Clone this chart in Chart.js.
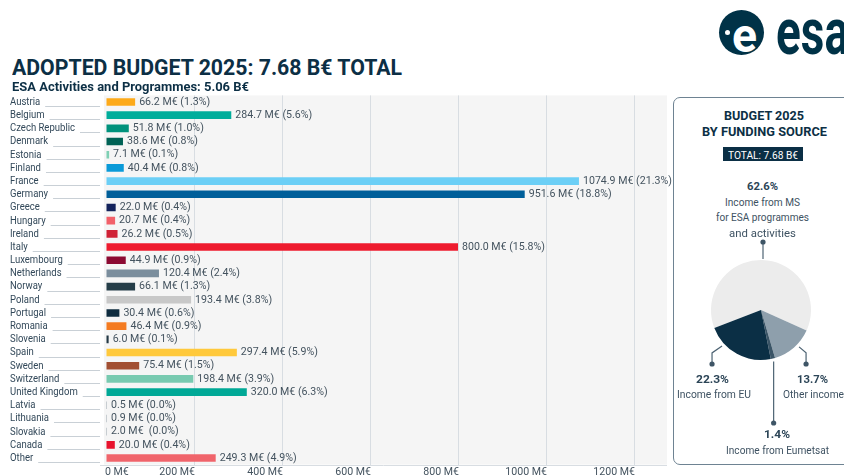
<!DOCTYPE html>
<html>
<head>
<meta charset="utf-8">
<script src="https://cdn.jsdelivr.net/npm/chart.js@4.4.1/dist/chart.umd.min.js"></script>
<style>
  html, body { margin: 0; padding: 0; background: #fff; width: 844px; height: 476px; overflow: hidden; }
  body { position: relative; font-family: Roboto, sans-serif; }
  #bars { position: absolute; left: 0; top: 88px; }
  #panel { position: absolute; left: 673px; top: 97px; width: 200px; height: 368px; box-sizing: border-box;
           border: 1.5px solid #6e8392; border-radius: 7px; background: #fff; }
  #pie { position: absolute; left: 673px; top: 236px; }
  #totalBox { position: absolute; left: 723px; top: 147px; width: 80px; height: 14px; background: #0b2f45; }
  #logoDisc { position: absolute; left: 719px; top: 10px; width: 45px; height: 45px; border-radius: 50%; background: #003247; }
  #logoDot { position: absolute; left: 725px; top: 30px; width: 5px; height: 5px; border-radius: 50%; background: #fff; }
</style>
</head>
<body>
<div id="logoDisc"></div>
<div id="logoDot"></div>
<div id="panel"></div>
<div id="totalBox"></div>
<canvas id="bars" width="672" height="388"></canvas>
<canvas id="pie" width="171" height="230"></canvas>

<script>
// ESA contributions by member state (M€) and share of ESA activities
const countries = ["Austria", "Belgium", "Czech Republic", "Denmark", "Estonia", "Finland", "France",
  "Germany", "Greece", "Hungary", "Ireland", "Italy", "Luxembourg", "Netherlands", "Norway", "Poland",
  "Portugal", "Romania", "Slovenia", "Spain", "Sweden", "Switzerland", "United Kingdom", "Latvia",
  "Lithuania", "Slovakia", "Canada", "Other"];
const budgetMEUR = [66.2, 284.7, 51.8, 38.6, 7.1, 40.4, 1074.9, 951.6, 22.0, 20.7, 26.2, 800.0, 44.9,
  120.4, 66.1, 193.4, 30.4, 46.4, 6.0, 297.4, 75.4, 198.4, 320.0, 0.5, 0.9, 2.0, 20.0, 249.3];
const sharePct = ["1.3", "5.6", "1.0", "0.8", "0.1", "0.8", "21.3", "18.8", "0.4", "0.4", "0.5", "15.8", "0.9",
  "2.4", "1.3", "3.8", "0.6", "0.9", "0.1", "5.9", "1.5", "3.9", "6.3", "0.0", "0.0", "0.0", "0.4", "4.9"];
const barColors = ["#fdaa1a", "#00ad9b", "#00927c", "#006255", "#7fd0b4", "#0a9ad8", "#6ccff6",
  "#005f9a", "#13225b", "#f26069", "#d02236", "#ee1b2e", "#8c0a32", "#7b8e9d", "#253d48", "#c8c8c8",
  "#0e2c3f", "#f47b20", "#233845", "#ffc93c", "#a24f32", "#78cab0", "#00a896", "#9aa5ae",
  "#9aa5ae", "#9aa5ae", "#e8132d", "#f0646b"];
const xTicks = [0, 200, 400, 600, 800, 1000, 1200];

// Budget by funding source (%)
const sourceLabels = ["Income from MS for ESA programmes and activities", "Other income",
  "Income from Eumetsat", "Income from EU"];
const sourceShares = [62.6, 13.7, 1.4, 22.3];
const sourceColors = ["#ececec", "#8e9fac", "#3a5466", "#0b2f45"];

const FONT = "Roboto";
const INK = "#0c2f45";
const GREY_TEXT = "#3e5262";

// place an html text, squeezed to the width measured on the reference
function addText(str, o) {
  const d = document.createElement("div");
  d.textContent = str;
  d.style.cssText = "position:absolute;white-space:nowrap;line-height:1;left:0;" +
    "font:" + (o.weight || 400) + " " + o.size + "px " + FONT + ";color:" + (o.color || GREY_TEXT) + ";" +
    "top:" + (o.base - 0.842 * o.size) + "px;";
  document.body.appendChild(d);
  const nat = d.getBoundingClientRect().width;
  const s = o.w ? o.w / nat : 1;
  let left = o.x;
  if (o.align === "center") left = o.x - nat * s / 2;
  d.style.left = left + "px";
  d.style.transformOrigin = "0 0";
  d.style.transform = "scaleX(" + s + ")";
}

addText("ADOPTED BUDGET 2025: 7.68 B€ TOTAL", { x: 12, base: 73, size: 22.5, weight: 700, color: INK, w: 390 });
addText("ESA Activities and Programmes: 5.06 B€", { x: 12, base: 89.5, size: 13.5, weight: 700, color: INK, w: 237 });

// logo
addText("e", { x: 744, base: 47, size: 48, weight: 700, color: "#fff", align: "center", w: 25 });
addText("esa", { x: 776, base: 49, size: 64, weight: 700, color: "#003247", w: 73 });

// funding panel texts
addText("BUDGET 2025", { x: 764, base: 119, size: 13, weight: 700, color: INK, align: "center", w: 80 });
addText("BY FUNDING SOURCE", { x: 764, base: 135, size: 13, weight: 700, color: INK, align: "center", w: 125 });
addText("TOTAL: 7.68 B€", { x: 763, base: 158, size: 11, color: "#fff", align: "center", w: 70 });
addText("62.6%", { x: 762, base: 189, size: 10.5, weight: 700, color: "#2c4557", align: "center", w: 31 });
addText("Income from MS", { x: 762, base: 205, size: 11, align: "center", w: 75 });
addText("for ESA programmes", { x: 762, base: 220.5, size: 11, align: "center", w: 93 });
addText("and activities", { x: 762, base: 236, size: 11, align: "center", w: 67 });
addText("22.3%", { x: 712, base: 382, size: 10.5, weight: 700, color: "#2c4557", align: "center", w: 33 });
addText("Income from EU", { x: 714, base: 397.5, size: 11, align: "center", w: 74 });
addText("13.7%", { x: 812, base: 382, size: 10.5, weight: 700, color: "#2c4557", align: "center", w: 31 });
addText("Other income", { x: 783, base: 397.5, size: 11, w: 61 });
addText("1.4%", { x: 777, base: 437, size: 10.5, weight: 700, color: "#2c4557", align: "center", w: 26 });
addText("Income from Eumetsat", { x: 777, base: 453.5, size: 11, align: "center", w: 103 });

const plotBackground = {
  id: "plotBackground",
  beforeDraw(chart) {
    const { ctx, chartArea: a } = chart;
    ctx.save();
    ctx.fillStyle = "#f5f5f5";
    ctx.fillRect(a.left - 2, a.top, a.right - a.left + 2, a.bottom - a.top);
    ctx.strokeStyle = "#d8dde2";
    ctx.lineWidth = 1;
    ctx.beginPath();
    ctx.moveTo(100, Math.round(a.bottom) + 0.5);
    ctx.lineTo(a.right, Math.round(a.bottom) + 0.5);
    ctx.stroke();
    ctx.restore();
  }
};

const barTexts = {
  id: "barTexts",
  afterDraw(chart) {
    const { ctx, scales } = chart;
    const meta = chart.getDatasetMeta(0);
    ctx.save();
    ctx.textBaseline = "middle";

    // country names with their leader rule
    ctx.font = "11.5px " + FONT;
    const sName = 65 / ctx.measureText("Czech Republic").width;
    countries.forEach((c, i) => {
      const y = scales.y.getPixelForValue(i);
      const w = ctx.measureText(c).width * sName;
      ctx.save();
      ctx.translate(10, y);
      ctx.scale(sName, 1);
      ctx.fillStyle = "#324859";
      ctx.fillText(c, 0, 0);
      ctx.restore();
      ctx.strokeStyle = "#c9d0d6";
      ctx.lineWidth = 1;
      ctx.beginPath();
      ctx.moveTo(10 + w + 5, Math.round(y + 4) + 0.5);
      ctx.lineTo(100, Math.round(y + 4) + 0.5);
      ctx.stroke();
    });

    // value labels at bar ends
    ctx.font = "11px " + FONT;
    const sVal = 77 / ctx.measureText("284.7 M€ (5.6%)").width;
    ctx.fillStyle = "#44535f";
    meta.data.forEach((bar, i) => {
      const sep = countries[i] === "Slovakia" ? "  " : " ";
      const txt = budgetMEUR[i].toFixed(1) + " M€" + sep + "(" + sharePct[i] + "%)";
      ctx.save();
      ctx.translate(bar.x + 4, bar.y);
      ctx.scale(sVal, 1);
      ctx.fillText(txt, 0, 0);
      ctx.restore();
    });

    // x tick labels
    const yLab = chart.chartArea.bottom + 7.5;
    xTicks.forEach(v => {
      const x = scales.x.getPixelForValue(v);
      const txt = v + " M€";
      const w = ctx.measureText(txt).width * sVal;
      ctx.save();
      ctx.translate(v === 0 ? x - 1 : x - w + 1, yLab);
      ctx.scale(sVal, 1);
      ctx.fillText(txt, 0, 0);
      ctx.restore();
    });
    ctx.restore();
  }
};

new Chart(document.getElementById("bars"), {
  type: "bar",
  data: {
    labels: countries,
    datasets: [{
      data: budgetMEUR,
      backgroundColor: barColors,
      borderWidth: 0,
      barPercentage: 0.58,
      categoryPercentage: 1,
      minBarLength: 1
    }]
  },
  options: {
    indexAxis: "y",
    responsive: false,
    animation: false,
    layout: { padding: { left: 106, right: 5, top: 7.4, bottom: 11.4 } },
    scales: {
      x: {
        min: 0,
        max: 1275,
        afterBuildTicks: scale => { scale.ticks = xTicks.map(v => ({ value: v })); },
        ticks: { display: false },
        grid: {
          drawTicks: false,
          color: c => (c.tick && c.tick.value === 0 ? "rgba(0,0,0,0)" : "#d8dde2")
        },
        border: { display: false }
      },
      y: { display: false }
    },
    plugins: { legend: { display: false }, tooltip: { enabled: false } }
  },
  plugins: [plotBackground, barTexts]
});

const leaders = {
  id: "leaders",
  afterDraw(chart) {
    const { ctx } = chart;
    const meta = chart.getDatasetMeta(0);
    const cx = meta.data[0].x, cy = meta.data[0].y, r = meta.data[0].outerRadius;
    const edge = (i, f, d) => {
      const el = meta.data[i];
      const a = el.startAngle + f * (el.endAngle - el.startAngle);
      return [cx + (r + d) * Math.cos(a), cy + (r + d) * Math.sin(a)];
    };
    const line = (pts) => {
      ctx.beginPath();
      ctx.moveTo(pts[0][0], pts[0][1]);
      pts.slice(1).forEach(p => ctx.lineTo(p[0], p[1]));
      ctx.stroke();
      const end = pts[pts.length - 1];
      ctx.beginPath();
      ctx.arc(end[0], end[1], 2.6, 0, Math.PI * 2);
      ctx.fill();
    };
    ctx.save();
    ctx.strokeStyle = "#4d6373";
    ctx.fillStyle = "#3e5566";
    ctx.lineWidth = 1.2;
    line([[cx + 2, cy - r - 1], [cx + 2, cy - r - 18]]);
    const eu = edge(3, 0.73, 3);
    line([eu, [eu[0] - 10, eu[1] + 7], [eu[0] - 10, cy + 54]]);
    const other = edge(1, 0.4, 3);
    line([other, [other[0] + 7, other[1] + 6], [other[0] + 7, cy + 54]]);
    const eum = edge(2, 0.5, 3);
    line([eum, [eum[0], cy + 113]]);
    ctx.restore();
  }
};

new Chart(document.getElementById("pie"), {
  type: "pie",
  data: {
    labels: sourceLabels,
    datasets: [{ data: sourceShares, backgroundColor: sourceColors, borderWidth: 0 }]
  },
  options: {
    responsive: false,
    animation: false,
    rotation: -111,
    layout: { padding: { left: 38, right: 33, top: 24, bottom: 106 } },
    plugins: { legend: { display: false }, tooltip: { enabled: false } }
  },
  plugins: [leaders]
});
</script>
</body>
</html>
